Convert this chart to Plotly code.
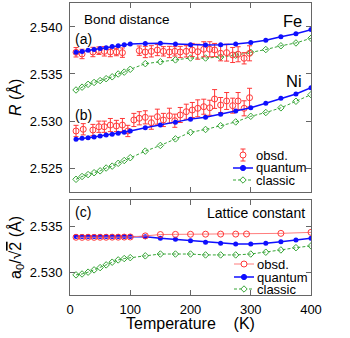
import plotly.graph_objects as go

# ---------------- data ----------------
T_calc = [10, 20, 30, 40, 50, 60, 70, 80, 90, 100, 125, 150, 175, 200, 225, 250, 275, 300, 325, 350, 375, 400]

fe_quantum = [2.53730, 2.53740, 2.53752, 2.53760, 2.53770, 2.53780, 2.53792, 2.53800, 2.53810, 2.53818, 2.53823,
              2.53826, 2.53818, 2.53812, 2.53809, 2.53810, 2.53818, 2.53835, 2.53860, 2.53897, 2.53927, 2.53972]
fe_classic = [2.53330, 2.53360, 2.53390, 2.53410, 2.53430, 2.53450, 2.53470, 2.53500, 2.53520, 2.53550, 2.53610,
              2.53630, 2.53650, 2.53670, 2.53670, 2.53680, 2.53700, 2.53730, 2.53760, 2.53800, 2.53830, 2.53880]
ni_quantum = [2.52805, 2.52816, 2.52822, 2.52830, 2.52840, 2.52851, 2.52859, 2.52869, 2.52880, 2.52894, 2.52929,
              2.52957, 2.52986, 2.53020, 2.53039, 2.53071, 2.53106, 2.53141, 2.53188, 2.53241, 2.53287, 2.53354]
ni_classic = [2.52380, 2.52410, 2.52430, 2.52450, 2.52470, 2.52500, 2.52520, 2.52550, 2.52580, 2.52610, 2.52680,
              2.52740, 2.52810, 2.52880, 2.52910, 2.52950, 2.52990, 2.53050, 2.53090, 2.53140, 2.53210, 2.53280]

T_fe_obs = [10, 20, 38, 48, 57, 67, 77, 87, 115, 125, 135, 145, 155, 165, 174, 183, 193, 203,
            212, 222, 232, 240, 250, 260, 270, 279, 289, 298]
fe_obs = [2.53731, 2.53713, 2.53734, 2.53748, 2.53741, 2.53734, 2.53734, 2.53727, 2.53748, 2.53734,
          2.53741, 2.53755, 2.53741, 2.53734, 2.53741, 2.53734, 2.53741, 2.53755, 2.53737, 2.53763,
          2.53763, 2.53755, 2.53720, 2.53727, 2.53702, 2.53710, 2.53667, 2.53720]
fe_obs_err = [0.0005, 0.0005, 0.0005, 0.0004, 0.0005, 0.0005, 0.0004, 0.0005, 0.0005, 0.0006,
              0.0006, 0.0006, 0.0005, 0.0006, 0.0005, 0.0006, 0.0006, 0.0007, 0.0008, 0.0008,
              0.0008, 0.0007, 0.0008, 0.0009, 0.0008, 0.0008, 0.0006, 0.0008]

T_ni_obs = [10, 22, 38, 48, 57, 67, 77, 87, 96, 106, 115, 125, 135, 145, 155, 165, 174, 183, 193,
            203, 212, 222, 232, 240, 250, 260, 270, 279, 289, 298]
ni_obs = [2.52894, 2.52912, 2.52904, 2.52939, 2.52939, 2.52957, 2.52947, 2.52957, 2.52894, 2.53011,
          2.53029, 2.53039, 2.52982, 2.53046, 2.53011, 2.53056, 2.53003, 2.53064, 2.53099, 2.53117,
          2.53135, 2.53152, 2.53141, 2.53234, 2.53170, 2.53213, 2.53163, 2.53213, 2.53135, 2.53248]
ni_obs_err = [0.0006, 0.0006, 0.0006, 0.0006, 0.0006, 0.0007, 0.0006, 0.0007, 0.0006, 0.0007,
              0.0007, 0.0007, 0.0007, 0.0008, 0.0007, 0.0008, 0.0007, 0.0008, 0.0008, 0.0008,
              0.0009, 0.0008, 0.0008, 0.0010, 0.0008, 0.0009, 0.0008, 0.0009, 0.0008, 0.0010]

lat_quantum = [2.53392, 2.53392, 2.53393, 2.53392, 2.53392, 2.53393, 2.53392, 2.53393, 2.53393, 2.53392, 2.53390,
               2.53375, 2.53362, 2.53346, 2.53329, 2.53318, 2.53310, 2.53310, 2.53318, 2.53336, 2.53354, 2.53373]
lat_classic = [2.52970, 2.52980, 2.53000, 2.53025, 2.53050, 2.53080, 2.53110, 2.53135, 2.53150, 2.53160, 2.53180,
               2.53200, 2.53200, 2.53200, 2.53190, 2.53190, 2.53190, 2.53200, 2.53220, 2.53245, 2.53270, 2.53290]
T_lat_obs = [10, 20, 30, 40, 50, 60, 70, 80, 90, 100, 125, 150, 175, 200, 225, 250, 275, 293, 350, 400]
lat_obs = [2.53385, 2.53384, 2.53385, 2.53384, 2.53385, 2.53385, 2.53386, 2.53386, 2.53387, 2.53388,
           2.53400, 2.53415, 2.53417, 2.53418, 2.53419, 2.53420, 2.53420, 2.53421, 2.53428, 2.53439]

x_ticks = [0, 100, 200, 300, 400]
y_ticks_top = [2.525, 2.530, 2.535, 2.540]
y_ticks_bot = [2.530, 2.535]

# ---------------- style ----------------
RED = "rgb(255,55,55)"
RED_L = "rgb(255,125,125)"
BLUE = "rgb(15,15,255)"
GREEN = "rgb(55,165,55)"
FRAME = "#666666"
FONT = "Liberation Sans, Arial, sans-serif"

W, H = 350, 338
L, R, TOP, B = 70, 39, 3, 43
PW, PH = W - L - R, H - TOP - B
TOP_PANEL = (3, 192)
BOT_PANEL = (200, 295)


def dom(p):
    return [(H - B - p[1]) / PH, (H - B - p[0]) / PH]


def px(x):
    return (x - L) / PW


def py(y):
    return (H - B - y) / PH


fig = go.Figure()

obs_marker = dict(symbol="circle-open", size=6, color=RED, line=dict(width=1, color=RED))
q_marker = dict(symbol="circle", size=5, color=BLUE, line=dict(width=0))
c_marker = dict(symbol="diamond-open", size=5, color=GREEN, line=dict(width=1, color=GREEN))
c_line = dict(color=GREEN, width=1, dash="3px,2px")
q_line = dict(color=BLUE, width=1.5)

for ys in (fe_classic, ni_classic):
    fig.add_trace(go.Scatter(x=T_calc, y=ys, mode="lines+markers", line=c_line, marker=c_marker,
                             xaxis="x2", yaxis="y2", showlegend=False))
for tt, ys, ee in ((T_fe_obs, fe_obs, fe_obs_err), (T_ni_obs, ni_obs, ni_obs_err)):
    fig.add_trace(go.Scatter(x=tt, y=ys, mode="markers", marker=obs_marker,
                             error_y=dict(type="data", array=ee, color=RED, thickness=1, width=2.5),
                             xaxis="x2", yaxis="y2", showlegend=False))
for ys in (fe_quantum, ni_quantum):
    fig.add_trace(go.Scatter(x=T_calc, y=ys, mode="lines+markers", line=q_line, marker=q_marker,
                             xaxis="x2", yaxis="y2", showlegend=False))

fig.add_trace(go.Scatter(x=T_calc, y=lat_classic, mode="lines+markers", line=c_line, marker=c_marker,
                         xaxis="x", yaxis="y", showlegend=False))
fig.add_trace(go.Scatter(x=T_calc, y=lat_quantum, mode="lines+markers", line=q_line, marker=q_marker,
                         xaxis="x", yaxis="y", showlegend=False))
fig.add_trace(go.Scatter(x=T_lat_obs, y=lat_obs, mode="lines+markers", line=dict(color=RED_L, width=1),
                         marker=dict(symbol="circle-open", size=6, color=RED, line=dict(width=1, color=RED)),
                         xaxis="x", yaxis="y", showlegend=False))

axis_common = dict(showline=True, linecolor=FRAME, linewidth=1, mirror="allticks", ticks="inside",
                   ticklen=5, tickcolor=FRAME, tickwidth=1, showgrid=False, zeroline=False,
                   tickfont=dict(family=FONT, size=13, color="black"))

fig.update_layout(
    width=W, height=H, margin=dict(l=L, r=R, t=TOP, b=B),
    paper_bgcolor="white", plot_bgcolor="white", showlegend=False,
    xaxis=dict(axis_common, domain=[0, 1], anchor="y", range=[0, 400], tickvals=x_ticks,
               ticklabelstandoff=2),
    yaxis=dict(axis_common, domain=dom(BOT_PANEL), anchor="x", range=[2.52748, 2.53796],
               tickvals=y_ticks_bot, tickformat=".3f", ticklabelstandoff=4),
    xaxis2=dict(axis_common, domain=[0, 1], anchor="y2", range=[0, 400], tickvals=[100, 200, 300],
                showticklabels=False),
    yaxis2=dict(axis_common, domain=dom(TOP_PANEL), anchor="x2", range=[2.52245, 2.54255],
                tickvals=y_ticks_top, tickformat=".3f", ticklabelstandoff=4),
)

ann = []


def text(s, x, y, size=14, xa="left", angle=0):
    ann.append(dict(text=s, x=px(x), y=py(y), xref="paper", yref="paper", showarrow=False,
                    xanchor=xa, yanchor="middle", textangle=angle, borderpad=0,
                    font=dict(family=FONT, size=size, color="black")))


text("Bond distance", 126.5, 19, 13.5, "center")
text("(a)", 74, 39, 14)
text("Fe", 303, 21, 16.5, "right")
text("Ni", 303, 81, 16.5, "right")
text("(b)", 74, 115, 14)
text("(c)", 74, 212, 14)
text("Lattice constant", 306, 213, 14, "right")
text("<i>R</i> (Å)", 15, 98, 16, "center", -90)
text("a<sub>0</sub>/√<span style='text-decoration:overline'>2</span> (Å)", 16, 248, 16, "center", -90)
text("Temperature\u00a0\u00a0\u00a0\u00a0(K)", 190, 323, 16, "center")

# legend entries (text)
for lab, y in (("obsd.", 155), ("quantum", 168), ("classic", 180)):
    text(lab, 255, y, 13)
for lab, y in (("obsd.", 264), ("quantum", 277), ("classic", 289)):
    text(lab, 256, y, 13)

shapes = []


def line(x0, y0, x1, y1, color, width=1, dash="solid"):
    shapes.append(dict(type="line", xref="paper", yref="paper", x0=px(x0), y0=py(y0), x1=px(x1), y1=py(y1),
                       line=dict(color=color, width=width, dash=dash)))


def circ(cx, cy, r, color, fill=False):
    shapes.append(dict(type="circle", xref="paper", yref="paper", x0=px(cx - r), x1=px(cx + r),
                       y0=py(cy + r), y1=py(cy - r), line=dict(color=color, width=1),
                       fillcolor=color if fill else "white"))


def diamond(cx, cy, r, color):
    p = "M {} {} L {} {} L {} {} L {} {} Z".format(px(cx), py(cy - r), px(cx + r), py(cy), px(cx), py(cy + r),
                                                    px(cx - r), py(cy))
    shapes.append(dict(type="path", xref="paper", yref="paper", path=p, line=dict(color=color, width=1),
                       fillcolor="white"))


KX0, KX1, KC = 233, 253, 243
# top legend keys
line(KC, 149, KC, 161, RED)
line(KC - 2.5, 149, KC + 2.5, 149, RED)
line(KC - 2.5, 161, KC + 2.5, 161, RED)
circ(KC, 155, 3, RED)
line(KX0, 168, KX1, 168, BLUE, 1.5)
circ(KC, 168, 2.6, BLUE, True)
line(KX0, 180, KX1, 180, GREEN, 1, "3px,2px")
diamond(KC, 180, 3.2, GREEN)
# bottom legend keys
line(KX0 + 1, 264, KX1 + 1, 264, RED_L)
circ(KC + 1, 264, 3, RED)
line(KX0 + 1, 277, KX1 + 1, 277, BLUE, 1.5)
circ(KC + 1, 277, 2.6, BLUE, True)
line(KX0 + 1, 289, KX1 + 1, 289, GREEN, 1, "3px,2px")
diamond(KC + 1, 289, 3.2, GREEN)

fig.update_layout(annotations=ann, shapes=shapes)
fig.write_html("out.html")
